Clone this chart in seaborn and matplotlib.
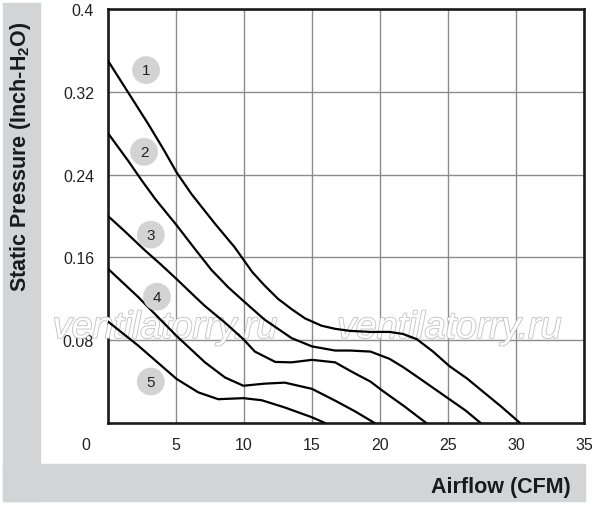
import numpy as np
import pandas as pd
import matplotlib
matplotlib.use("Agg")
import matplotlib.pyplot as plt
import matplotlib.patheffects as pe
from matplotlib.patches import Rectangle
from matplotlib.transforms import ScaledTranslation
import seaborn as sns

# --- data ---
c1_x = [0, 1.5, 3.0, 4.1, 5.05, 6.15, 7.9, 9.3, 9.95, 10.6, 11.5, 12.5, 13.5, 14.5, 15.7, 16.7,
        17.8, 19.3, 20.7, 21.7, 22.7, 23.9, 25.1, 26.4, 27.6, 28.9, 30.3]
c1_y = [0.350, 0.319, 0.288, 0.264, 0.242, 0.221, 0.192, 0.170, 0.158, 0.146, 0.133, 0.120, 0.110,
        0.101, 0.094, 0.091, 0.089, 0.088, 0.088, 0.086, 0.081, 0.069, 0.055, 0.043, 0.030, 0.016, 0.0]

c2_x = [0, 1.5, 2.5, 3.5, 5.05, 6.4, 7.6, 8.85, 9.95, 11.5, 13.5, 15.0, 16.7, 17.8, 19.3, 20.7,
        21.7, 22.7, 23.9, 25.1, 26.3, 27.4]
c2_y = [0.280, 0.253, 0.234, 0.216, 0.191, 0.168, 0.148, 0.131, 0.118, 0.100, 0.082, 0.074, 0.070,
        0.070, 0.069, 0.062, 0.054, 0.045, 0.034, 0.023, 0.012, 0.0]

c3_x = [0, 1.25, 2.7, 3.9, 5.05, 6.4, 7.13, 8.6, 9.95, 10.8, 12.3, 13.5, 15.0, 16.7, 18.0, 19.3,
        20.2, 21.8, 23.4]
c3_y = [0.200, 0.185, 0.167, 0.153, 0.139, 0.122, 0.113, 0.097, 0.081, 0.069, 0.059, 0.0586,
        0.061, 0.0586, 0.049, 0.040, 0.031, 0.016, 0.0]

c4_x = [0, 2.2, 5.05, 7.13, 8.6, 9.95, 11.5, 13.0, 15.0, 16.7, 18.2, 19.6]
c4_y = [0.149, 0.122, 0.084, 0.0586, 0.044, 0.036, 0.038, 0.039, 0.033, 0.0216, 0.011, 0.0]

c5_x = [0, 2.2, 5.05, 6.64, 8.1, 9.95, 11.3, 13.0, 15.0, 15.96]
c5_y = [0.098, 0.075, 0.0425, 0.0296, 0.023, 0.024, 0.022, 0.015, 0.0055, 0.0]

curves = [(c1_x, c1_y), (c2_x, c2_y), (c3_x, c3_y), (c4_x, c4_y), (c5_x, c5_y)]

# curve number badges
badge_names = ["1", "2", "3", "4", "5"]
badge_x = [2.8, 2.65, 3.15, 3.6, 3.15]
badge_y = [0.341, 0.262, 0.182, 0.122, 0.040]

x_ticks = [0, 5, 10, 15, 20, 25, 30, 35]
x_tick_labels = ["0", "5", "10", "15", "20", "25", "30", "35"]
y_ticks = [0.08, 0.16, 0.24, 0.32, 0.4]
y_tick_labels = ["0.08", "0.16", "0.24", "0.32", "0.4"]

# --- style ---
sns.set_style("white")
plt.rcParams["font.family"] = ["Liberation Sans", "DejaVu Sans"]
plt.rcParams["mathtext.fontset"] = "custom"
plt.rcParams["mathtext.rm"] = "Liberation Sans"
plt.rcParams["mathtext.bf"] = "Liberation Sans:bold"

fig = plt.figure(figsize=(6, 5.06), dpi=100)
fig.patch.set_facecolor("white")

# gray L-shaped band behind the axis titles
band = "#d2d4d6"
fig.patches.append(Rectangle((3 / 600, 1 - 502 / 506), 37 / 600, 498 / 506,
                             transform=fig.transFigure, color=band, zorder=0))
fig.patches.append(Rectangle((3 / 600, 1 - 502 / 506), 582 / 600, 37 / 506,
                             transform=fig.transFigure, color=band, zorder=0))

ax = fig.add_axes([108 / 600, 82 / 506, 476 / 600, 414 / 506])
ax.set_facecolor("white")

for xs, ys in curves:
    df = pd.DataFrame({"x": xs, "y": ys})
    sns.lineplot(data=df, x="x", y="y", ax=ax, color="black", linewidth=1.6,
                 sort=False, zorder=4, solid_joinstyle="round")

# watermark
for wx in [4.2, 25.1]:
    ax.text(wx, 0.092, "ventilatorry.ru", fontsize=27, style="italic",
            color="white", ha="center", va="center", zorder=3,
            path_effects=[pe.withStroke(linewidth=1.3, foreground="#c4c4c4")])

ax.scatter(badge_x, badge_y, s=400, color="#d3d3d3", edgecolors="none", zorder=5)
for name, bx, by in zip(badge_names, badge_x, badge_y):
    ax.text(bx, by, name, fontsize=11, ha="center", va="center", color="#222222", zorder=6)

ax.set_xlim(0, 35)
ax.set_ylim(0, 0.4)
ax.set_xticks(x_ticks)
ax.set_xticklabels(x_tick_labels)
ax.set_yticks(y_ticks)
ax.set_yticklabels(y_tick_labels)
ax.tick_params(axis="both", length=0, labelsize=11.5, colors="#222222")
ax.tick_params(axis="x", pad=10)
ax.tick_params(axis="y", pad=10)
# the "0" sits at the corner, left of the frame
lab0 = ax.get_xticklabels()[0]
lab0.set_transform(lab0.get_transform() + ScaledTranslation(-22 / 100, 0, fig.dpi_scale_trans))

ax.grid(True, color="#8c8c8c", linewidth=1.0)
ax.set_axisbelow(True)
for s in ax.spines.values():
    s.set_color("#1a1a1a")
    s.set_linewidth(1.9)

ax.set_xlabel("")
ax.set_ylabel("")
fig.text(21 / 600, 1 - 157 / 506, r"Static Pressure (Inch-H$_\mathbf{2}$O)", rotation=90,
         fontsize=15.5, fontweight="bold", ha="center", va="center", color="#1a1a1a")
fig.text(571 / 600, 1 - 488 / 506, "Airflow (CFM)", fontsize=15.5, fontweight="bold",
         ha="right", va="center", color="#1a1a1a")

fig.savefig("out.png", dpi=100)
